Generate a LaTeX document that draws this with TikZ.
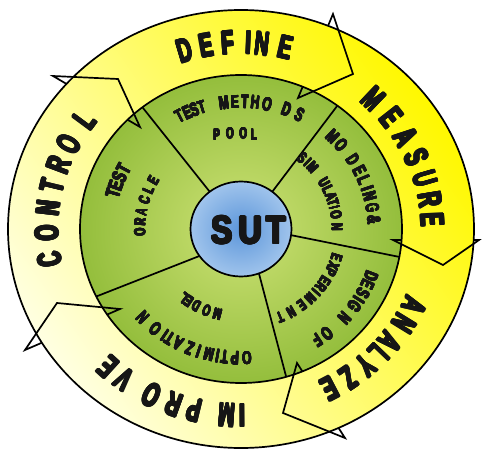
\documentclass[tikz,border=0pt]{standalone}
\usepackage{fontspec}
\usepackage[copies]{contour}
\contournumber{12}
\usetikzlibrary{intersections,shapes.geometric}
\newfontfamily\impO{Liberation Sans}[FakeStretch=0.6]
\newfontfamily\impI{Liberation Sans}[FakeStretch=0.64]
\newfontfamily\impS{Liberation Sans}[FakeStretch=0.82]
\definecolor{ybright}{RGB}{255,248,0}
\definecolor{ypale}{RGB}{255,255,225}
\definecolor{gin}{RGB}{205,226,118}
\definecolor{gout}{RGB}{148,190,60}
\definecolor{bin}{RGB}{92,150,218}
\definecolor{bout}{RGB}{160,196,236}
\definecolor{txt}{RGB}{22,22,22}
\newcommand\arcword[5]{%
  \foreach \a/\ch [count=\i] in {#5} {%
    \node[#2, rotate=\a-90] (#1\i) at ({241+#3*cos(\a)},{229-#4*sin(\a)}) {\contour{txt}{\ch}};
  }}
\newcommand\headshape[4]{%
  \path[name path=bc#1] #2 -- #4;
  \path[name intersections={of=outerE and bc#1, by={hA#1}}];
  \path[name intersections={of=innerE and bc#1, by={hD#1}}];
  \coordinate (hB#1) at #2;
  \coordinate (hT#1) at #3;
  \coordinate (hC#1) at #4;
  \draw[headline] (hA#1) -- (hB#1) -- (hT#1) -- (hC#1) -- (hD#1);
}
\begin{document}
\begin{tikzpicture}[x=1pt,y=-1pt,line width=1.7pt,
  outerL/.style={font=\impO\bfseries\fontsize{33}{33}\selectfont\contourlength{0.9pt}, inner sep=0pt, text=txt},
  innerL/.style={font=\impI\bfseries\fontsize{18.5}{18.5}\selectfont\contourlength{0.45pt}, inner sep=0pt, text=txt},
  testL/.style={font=\impI\bfseries\fontsize{20}{20}\selectfont\contourlength{0.5pt}, inner sep=0pt, text=txt},
  smallL/.style={font=\impI\bfseries\fontsize{15.5}{15.5}\selectfont\contourlength{0.4pt}, inner sep=0pt, text=txt},
  sutL/.style={font=\impS\bfseries\fontsize{39}{39}\selectfont\contourlength{1.1pt}, inner sep=0pt, text=txt},
  headline/.style={line width=1.7pt, line join=miter, line cap=butt},
]
\useasboundingbox (0,0) rectangle (483,450);
% yellow ring
\node[ellipse, draw, minimum width=466pt, minimum height=438pt, inner sep=0pt, outer sep=0pt,
  top color=ybright, bottom color=ypale, shading angle=-55] (ring) at (241,229) {};
% green disk
\node[ellipse, draw, minimum width=322pt, minimum height=308pt, inner sep=0pt, outer sep=0pt,
  inner color=gin, outer color=gout] (green) at (241,229) {};
\path[name path=outerE] (241,229) ellipse [x radius=233, y radius=219];
\path[name path=innerE] (241,229) ellipse [x radius=161, y radius=154];
% arrow heads
\headshape{1}{(333,14)}{(353,74)}{(298,98)}
\headshape{2}{(479,240)}{(443,265)}{(393,240)}
\headshape{3}{(345,438)}{(283,413)}{(297,363)}
\headshape{4}{(25,350)}{(57,303)}{(120,309)}
\headshape{5}{(53,76)}{(118,79)}{(140,127)}
% SUT and spokes
\node[ellipse, minimum width=101pt, minimum height=95pt, inner sep=0pt, outer sep=0pt] (sut) at (241,229) {};
\draw (sut.130) -- (green.129);
\draw (sut.50) -- (green.52);
\draw (sut.-7) -- (green.-10);
\draw (sut.-68) -- (green.-73);
\draw (sut.213) -- (green.205);
\path[draw, inner color=bin, outer color=bout] (241,229) ellipse [x radius=50.5, y radius=47.5];
\node[sutL] (sutS) at (222,231) {\contour{txt}{S}};
\node[sutL] (sutU) at (250.5,231) {\contour{txt}{U}};
\node[sutL] (sutT) at (276,231) {\contour{txt}{T}};
% outer ring words
\arcword{def}{outerL}{197}{186}{106.6/D,100.1/E,93.8/F,87.9/I,83.8/N,76.9/E}
\arcword{mea}{outerL}{191}{180}{46.2/M,38.2/E,30.6/A,23.4/S,16.2/U,9.4/R,2.9/E}
\arcword{ana}{outerL}{191}{180}{-25.1/A,-31.6/N,-38.8/A,-43.9/L,-49.2/Y,-55.7/Z,-62.4/E}
\arcword{imp}{outerL}{197}{186}{-89.7/I,-94.1/M,-103.7/P,-109.8/R,-116.9/O,-126.3/V,-132.3/E}
\arcword{con}{outerL}{194}{183}{189.6/C,181.3/O,173.4/N,166.5/T,159.5/R,152.4/O,143.5/L}
% inner words
\arcword{tm}{innerL}{133}{127}{117.5/T,113.8/E,110.5/S,107.1/T,97.4/M,92.6/E,88.3/T,83.9/H,78.7/O,70.0/D,64.0/S}
\node[smallL] (po1) at (216.7,135) {\contour{txt}{P}};
\node[smallL] (po2) at (230,133.5) {\contour{txt}{O}};
\node[smallL] (po3) at (243.3,133.5) {\contour{txt}{O}};
\node[smallL] (po4) at (254,135) {\contour{txt}{L}};
\arcword{mo}{innerL}{133}{127}{46.6/M,41.3/O,33.0/D,27.2/E,22.5/L,18.4/I,14.9/N,9.5/G,4.0/\&}
\arcword{si}{smallL}{96}{92}{50.4/S,46.2/I,41.9/M,30.3/U,25.3/L,20.5/A,16.6/T,13.4/I,8.8/O,1.2/N}
\arcword{de}{innerL}{139}{133}{-20.9/D,-24.7/E,-28.8/S,-32.2/I,-35.5/G,-42.0/N,-51.9/O,-56.8/F}
\arcword{ex}{smallL}{100}{96}{-17.3/E,-22.6/X,-26.7/P,-32.7/E,-37.2/R,-41.3/I,-46.2/M,-52.6/E,-59.9/N,-66.9/T}
\arcword{op}{innerL}{135}{129}{-87.5/O,-92.6/P,-97.0/T,-100.0/I,-103.7/M,-108.3/I,-112.3/Z,-117.7/A,-121.9/T,-124.4/I,-129.3/O,-136.7/N}
\arcword{mdl}{smallL}{92}{88}{-104.8/M,-111.9/O,-119.1/D,-124.5/E,-128.4/L}
\arcword{te}{testL}{133}{127}{163.8/T,160.1/E,156.0/S,151.8/T}
\arcword{or}{smallL}{101}{97}{181.8/O,175.8/R,169.9/A,162.7/C,156.3/L,150.1/E}
\end{tikzpicture}
\end{document}
